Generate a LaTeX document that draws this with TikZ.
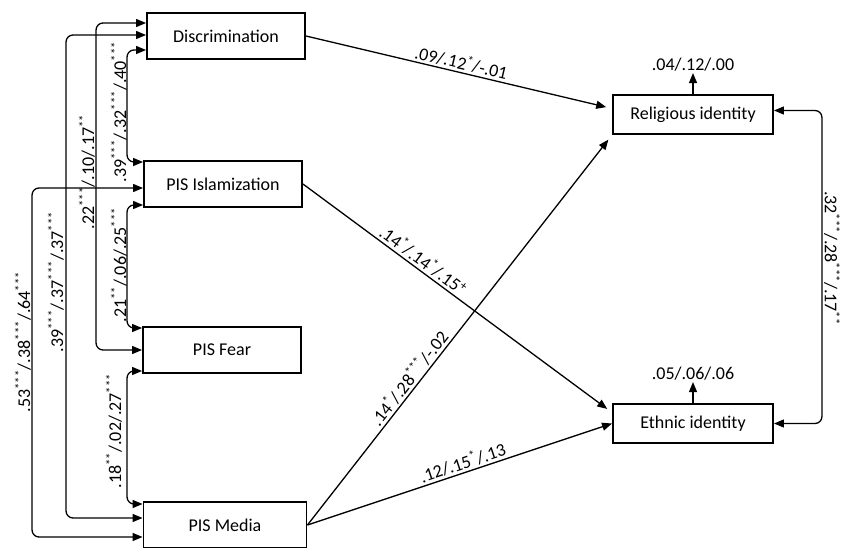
\documentclass[tikz,border=0pt]{standalone}
\usepackage{fontspec}
\setmainfont{Carlito}
\usetikzlibrary{arrows.meta,positioning}
\tikzset{
    var/.style={draw,line width=1.9pt,inner sep=0pt,minimum width=158pt,minimum height=46pt,font=\fontsize{18}{21}\selectfont},
    outcome/.style={var,minimum width=160pt,minimum height=39pt},
    effect/.style={line width=1.3pt,-{Triangle[length=10pt,width=8pt]}},
    corr/.style={line width=1.3pt,{Triangle[length=10pt,width=8pt]}-{Triangle[length=10pt,width=8pt]},rounded corners=7pt},
    coef/.style={font=\fontsize{18}{21}\selectfont,inner sep=2pt}
}
\newcommand{\sig}[1]{\textsuperscript{#1}}

\begin{document}
\begin{tikzpicture}[x=1pt,y=1pt]
                            \useasboundingbox (0,0) rectangle (841,547);
                            \node[var] (disc) at (226,511) {Discrimination};
                            \node[var] (isl) at (223,363) {PIS Islamization};
                            \node[var] (fear) at (222,197) {PIS Fear};
                            \node[var,minimum width=163pt] (media) at (225,22) {PIS Media};
                            \node[outcome] (rel) at (693,432.5) {Religious identity};
                            \node[outcome] (eth) at (693,123.5) {Ethnic identity};
                            \node[coef] (relr) [above=21pt of rel] {.04/.12/.00};
                            \node[coef] (ethr) [above=21pt of eth] {.05/.06/.06};
                            \draw[effect] (rel.north) -- (relr.south);
                            \draw[effect] (eth.north) -- (ethr.south);
                            \draw[corr] ([yshift=13pt]disc.west) -- ++(-50,0) |- (fear.west);
                            \draw[corr] ([yshift=1pt]disc.west) -- ++(-80,0) |- ([yshift=7pt]media.west);
                            \draw[corr] ([yshift=-14pt]disc.west) -- ++(-19,0) |- ([yshift=22pt]isl.west);
                            \draw[corr] ([yshift=-4pt]isl.west) -- ++(-111,0) |- ([yshift=-12pt]media.west);
                            \draw[corr] ([yshift=-21pt]isl.west) -- ++(-16,0) |- ([yshift=22pt]fear.west);
                            \draw[corr] ([yshift=-21pt]fear.west) -- ++(-15,0) |- ([yshift=21pt]media.west);
                            \draw[corr] ([yshift=4pt]rel.east) -- ++(48,0) |- (eth.east);
                            \node[coef,rotate=90,anchor=south] (c1) at (97,375) {.22\sig{***}/.10/.17\sig{**}};
                            \node[coef,rotate=90,anchor=south] (c2) at (66,265) {.39\sig{***}/.37\sig{***}/.37\sig{***}};
                            \node[coef,rotate=90,anchor=south] (c3) at (129,435) {.39\sig{***}/.32\sig{***}/.40\sig{***}};
                            \node[coef,rotate=90,anchor=south] (c4) at (33,205) {.53\sig{***}/.38\sig{***}/.64\sig{***}};
                            \node[coef,rotate=90,anchor=south] (c5) at (129,282) {.21\sig{**}/.06/.25\sig{***}};
                            \node[coef,rotate=90,anchor=south] (c6) at (124,116) {.18\sig{**}/.02/.27\sig{***}};
                            \node[coef,rotate=-90,anchor=south] (c7) at (822,289) {.32\sig{***}/.28\sig{***}/.17\sig{**}};
                            \draw[effect,shorten >=6pt] (disc.east) -- node[coef,pos=.5,above,sloped] {.09/.12\sig{*}/-.01} ([yshift=6pt]rel.west);
                            \draw[effect,shorten >=6pt] (isl.east) -- node[coef,pos=.37,above,sloped] {.14\sig{*}/.14\sig{*}/.15\sig{+}} ([yshift=11pt]eth.west);
                            \draw[effect,shorten >=6pt] (media.east) -- node[coef,pos=.36,above,sloped] {.14\sig{*}/.28\sig{***}/-.02} (rel.south west);
                            \draw[effect] (media.east) -- node[coef,pos=.52,above,sloped] {.12/.15\sig{*}/.13} (eth.west);
                        \end{tikzpicture}
\end{document}
